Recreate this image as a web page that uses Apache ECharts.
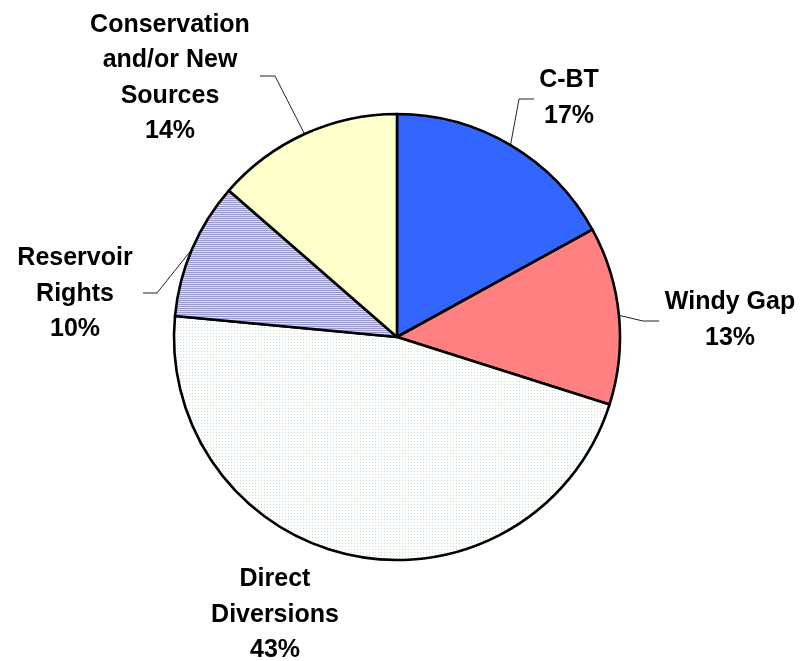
<!DOCTYPE html>
<html>
<head>
<meta charset="utf-8">
<script src="https://cdn.jsdelivr.net/npm/echarts@6/dist/echarts.min.js"></script>
<style>
html,body{margin:0;padding:0;background:#fff;}
#chart{width:801px;height:661px;}
</style>
</head>
<body>
<div id="chart"></div>
<script>
// ---- data ----
const categories = ['C-BT', 'Windy Gap', 'Direct\nDiversions', 'Reservoir\nRights', 'Conservation\nand/or New\nSources'];
const sliceValues = [17.0, 12.9, 46.6, 9.9, 13.6];   // measured from slice angles
const percentLabels = ['17%', '13%', '43%', '10%', '14%']; // printed labels

// ---- styling / layout ----
function makePattern(w, h, draw) {
  const c = document.createElement('canvas');
  c.width = w; c.height = h;
  draw(c.getContext('2d'));
  return { image: c, repeat: 'repeat' };
}
const stripes = makePattern(1, 2, ctx => {
  ctx.fillStyle = '#9A9ACC'; ctx.fillRect(0, 0, 1, 1);
  ctx.fillStyle = '#D8D8EE'; ctx.fillRect(0, 1, 1, 1);
});
const dots = makePattern(3, 3, ctx => {
  ctx.fillStyle = '#FFFFFF'; ctx.fillRect(0, 0, 3, 3);
  ctx.fillStyle = '#C4E2C4'; ctx.fillRect(0, 0, 1, 1);
});
const fills = ['#3366FF', '#FF8080', dots, stripes, '#FFFFCC'];

// label anchor (center of text block) and leader elbow/end points
const labelAnchors = [
  { x: 569, y: 98, elbow: [519, 99], end: [534, 99] },
  { x: 730, y: 320, elbow: [643, 321], end: [659, 321] },
  { x: 275, y: 615, elbow: null, end: null },
  { x: 75, y: 294, elbow: [157, 293], end: [143, 293] },
  { x: 170, y: 78, elbow: [275, 76], end: [260, 76] }
];

const chart = echarts.init(document.getElementById('chart'), null, { renderer: 'canvas' });
chart.setOption({
  animation: false,
  backgroundColor: '#ffffff',
  series: [{
    type: 'pie',
    center: [397, 337],
    radius: 223,
    startAngle: 90,
    clockwise: true,
    avoidLabelOverlap: false,
    itemStyle: { borderColor: '#000', borderWidth: 2.6 },
    label: {
      show: true,
      position: 'outside',
      color: '#000',
      fontFamily: 'Liberation Sans, Arial, sans-serif',
      fontWeight: 'bold',
      fontSize: 25,
      lineHeight: 35.5,
      align: 'center',
      formatter: p => categories[p.dataIndex] + '\n' + percentLabels[p.dataIndex]
    },
    labelLine: { show: true, length: 10, length2: 10, smooth: false, lineStyle: { color: '#222', width: 1 } },
    labelLayout: function (params) {
      const a = labelAnchors[params.dataIndex];
      const out = { x: a.x, y: a.y, align: 'center', verticalAlign: 'middle' };
      if (a.elbow && params.labelLinePoints) {
        out.labelLinePoints = [params.labelLinePoints[0], a.elbow, a.end];
      }
      return out;
    },
    emphasis: { disabled: true },
    data: sliceValues.map((v, i) => ({
      value: v,
      name: categories[i],
      itemStyle: { color: fills[i] },
      labelLine: { show: labelAnchors[i].elbow !== null }
    }))
  }]
});
</script>
</body>
</html>
